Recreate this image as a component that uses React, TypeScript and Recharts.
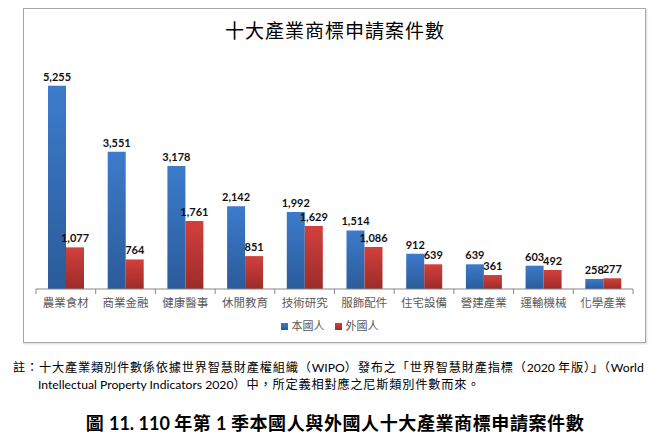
import { BarChart, Bar, XAxis, YAxis, Legend, LabelList } from "recharts"

const industries = [
  "農業食材",
  "商業金融",
  "健康醫事",
  "休閒教育",
  "技術研究",
  "服飾配件",
  "住宅設備",
  "營建產業",
  "運輸機械",
  "化學產業",
]
const domestic = [5255, 3551, 3178, 2142, 1992, 1514, 912, 639, 603, 258]
const foreign = [1077, 764, 1761, 851, 1629, 1086, 639, 361, 492, 277]

const data = industries.map((name, i) => ({
  name,
  domestic: domestic[i],
  foreign: foreign[i],
}))

const CJK = "'Noto Sans CJK TC', 'Noto Sans CJK SC', sans-serif"
const NUM = "Lato, 'Noto Sans CJK TC', sans-serif"

const PLOT_LEFT = 36
const PLOT_RIGHT = 633
const BAND = (PLOT_RIGHT - PLOT_LEFT) / industries.length

function CategoryTick(props: any) {
  const { x, y, payload, index } = props
  const half = BAND / 2
  return (
    <g>
      <line x1={x - half} x2={x - half} y1={y} y2={y + 5} stroke="#868686" />
      {index === industries.length - 1 && (
        <line x1={x + half} x2={x + half} y1={y} y2={y + 5} stroke="#868686" />
      )}
      <text
        x={x}
        y={y + 18}
        textAnchor="middle"
        fill="#595959"
        fontSize={11.5}
        fontFamily={CJK}
      >
        {payload.value}
      </text>
    </g>
  )
}

const fmt = (v: any) => Number(v).toLocaleString("en-US")

const labelStyle = { fontSize: 11, fontWeight: 700, fill: "#111", fontFamily: NUM }

export default function App() {
  return (
    <div
      style={{
        position: "absolute",
        left: 0,
        top: 0,
        width: 670,
        height: 439,
        background: "#fff",
        overflow: "hidden",
      }}
    >
      <div
        style={{
          position: "absolute",
          left: 23,
          top: 8,
          width: 621,
          height: 333,
          border: "1px solid #a6a6a6",
          boxShadow: "1px 1px 2px rgba(0,0,0,0.15)",
        }}
      />
      <div
        style={{
          position: "absolute",
          left: 0,
          width: 670,
          top: 17,
          textAlign: "center",
          fontFamily: CJK,
          fontSize: 19,
          letterSpacing: 1,
          color: "#000",
          lineHeight: "26px",
        }}
      >
        十大產業商標申請案件數
      </div>
      <div style={{ position: "absolute", left: 0, top: 0 }}>
        <BarChart
          width={670}
          height={345}
          data={data}
          barSize={18}
          barGap={0}
          margin={{ top: 57, right: 670 - PLOT_RIGHT, bottom: 18, left: PLOT_LEFT }}
        >
          <defs>
            <linearGradient id="gBlue" x1="0" y1="0" x2="0" y2="1">
              <stop offset="0%" stopColor="#3c7bcb" />
              <stop offset="100%" stopColor="#2b5b9a" />
            </linearGradient>
            <linearGradient id="gRed" x1="0" y1="0" x2="0" y2="1">
              <stop offset="0%" stopColor="#d2403d" />
              <stop offset="100%" stopColor="#9c2c29" />
            </linearGradient>
          </defs>
          <XAxis
            dataKey="name"
            stroke="#868686"
            tickSize={0}
            tickMargin={0}
            tickLine={false}
            height={20}
            interval={0}
            tick={<CategoryTick />}
          />
          <YAxis hide domain={[0, 6000]} />
          <Legend
            iconType="square"
            iconSize={7}
            itemSorter="dataKey"
            wrapperStyle={{ top: 316 }}
            formatter={(value: string) => (
              <span style={{ color: "#595959", fontSize: 11, fontFamily: CJK }}>
                {value}
              </span>
            )}
          />
          <Bar dataKey="domestic" name="本國人" fill="url(#gBlue)" legendType="square" isAnimationActive={false}>
            <LabelList dataKey="domestic" position="top" offset={5} formatter={fmt} style={labelStyle} />
          </Bar>
          <Bar dataKey="foreign" name="外國人" fill="url(#gRed)" legendType="square" isAnimationActive={false}>
            <LabelList dataKey="foreign" position="top" offset={5} formatter={fmt} style={labelStyle} />
          </Bar>
        </BarChart>
      </div>
      <div
        style={{
          position: "absolute",
          left: 13,
          top: 359,
          whiteSpace: "nowrap",
          fontFamily: CJK,
          fontSize: 12.2,
          letterSpacing: 0.8,
          color: "#000",
          lineHeight: "16px",
        }}
      >
        <div>
          註：十大產業類別件數係依據世界智慧財產權組織（<span style={{ fontFamily: NUM, letterSpacing: 0 }}>WIPO</span>）發布之「世界智慧財產指標（<span style={{ fontFamily: NUM, letterSpacing: 0 }}>2020 </span>年版）」（<span style={{ fontFamily: NUM, letterSpacing: 0 }}>World</span>
        </div>
        <div style={{ paddingLeft: 25 }}>
          <span style={{ fontFamily: NUM, letterSpacing: 0 }}>Intellectual Property Indicators 2020</span>）中，所定義相對應之尼斯類別件數而來。
        </div>
      </div>
      <div
        style={{
          position: "absolute",
          left: 0,
          width: 670,
          top: 409,
          textAlign: "center",
          fontFamily: CJK,
          fontWeight: 700,
          fontSize: 18,
          letterSpacing: 0.6,
          color: "#000",
          lineHeight: "26px",
        }}
      >
        圖 <span style={{ fontFamily: NUM, letterSpacing: 0 }}>11. 110 </span>年第 <span style={{ fontFamily: NUM, letterSpacing: 0 }}>1 </span>季本國人與外國人十大產業商標申請案件數
      </div>
    </div>
  )
}
